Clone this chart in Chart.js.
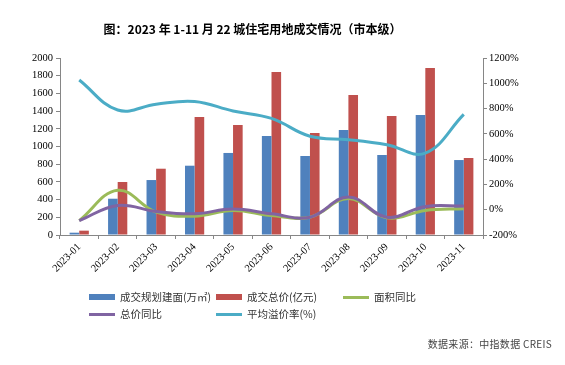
<!DOCTYPE html>
<html>
<head>
<meta charset="utf-8">
<script src="https://cdn.jsdelivr.net/npm/chart.js@4/dist/chart.umd.min.js"></script>
<style>
  html,body{margin:0;padding:0;background:#fff;}
  #wrap{position:relative;width:565px;height:365px;background:#fff;overflow:hidden;}
  #c{position:absolute;left:0;top:0;}
  #title{position:absolute;left:0;width:505px;top:20px;text-align:center;font-family:"Noto Sans CJK SC";font-weight:bold;font-size:12px;color:#000;white-space:nowrap;}
  .lg{position:absolute;font-family:"Noto Sans CJK SC";font-size:10.5px;color:#333;white-space:nowrap;line-height:14px;}
  .mk{position:absolute;}
  #source{position:absolute;right:13px;top:336px;font-family:"Noto Sans CJK SC";font-size:10px;color:#444;white-space:nowrap;letter-spacing:0.3px;}
</style>
</head>
<body>
<div id="wrap">
  <canvas id="c" width="565" height="365"></canvas>
  <div id="title">图：2023 年 1-11 月 22 城住宅用地成交情况（市本级）</div>
  <div id="legend"></div>
  <div id="source">数据来源：中指数据 CREIS</div>
</div>
<script>
const categories = ['2023-01','2023-02','2023-03','2023-04','2023-05','2023-06','2023-07','2023-08','2023-09','2023-10','2023-11'];
const areaValues = [26, 410, 621, 783, 927, 1119, 893, 1187, 904, 1356, 847];       // 成交规划建面(万㎡)
const priceValues = [49, 599, 749, 1333, 1243, 1842, 1153, 1582, 1345, 1887, 870];  // 成交总价(亿元)
const areaYoY = [-86, 154, -19, -51, -6, -46, -59, 88, -64, -6, 8];                 // 面积同比 (%)
const priceYoY = [-86, 34, -14, -32, 5, -32, -59, 101, -59, 26, 29];                // 总价同比 (%)
const premiumRate = [1026, 789, 834, 856, 781, 722, 581, 554, 514, 448, 754];       // 平均溢价率 (%)
const seriesNames = ['成交规划建面(万㎡)', '成交总价(亿元)', '面积同比', '总价同比', '平均溢价率(%)'];
const leftTicks = {min: 0, max: 2000, step: 200};
const rightTicks = {min: -200, max: 1200, step: 200};

const colors = ['#4F81BD', '#C0504D', '#9BBB59', '#8064A2', '#4BACC6'];
const axisColor = '#868686';
const tickFont = {family: 'Liberation Serif', size: 10.5};

const ctx = document.getElementById('c').getContext('2d');
new Chart(ctx, {
  data: {
    labels: categories,
    datasets: [
      {type: 'bar', label: seriesNames[0], data: areaValues, yAxisID: 'y', backgroundColor: colors[0], barPercentage: 1, categoryPercentage: 0.5, order: 3},
      {type: 'bar', label: seriesNames[1], data: priceValues, yAxisID: 'y', backgroundColor: colors[1], barPercentage: 1, categoryPercentage: 0.5, order: 4},
      {type: 'line', label: seriesNames[2], data: areaYoY, yAxisID: 'y1', borderColor: colors[2], backgroundColor: colors[2], borderWidth: 3, pointRadius: 0, tension: 0.4, order: 2},
      {type: 'line', label: seriesNames[3], data: priceYoY, yAxisID: 'y1', borderColor: colors[3], backgroundColor: colors[3], borderWidth: 3, pointRadius: 0, tension: 0.4, order: 1},
      {type: 'line', label: seriesNames[4], data: premiumRate, yAxisID: 'y1', borderColor: colors[4], backgroundColor: colors[4], borderWidth: 3, pointRadius: 0, tension: 0.4, order: 0}
    ]
  },
  options: {
    responsive: false,
    animation: false,
    devicePixelRatio: 1,
    layout: {padding: {top: 58, left: 0, right: 0, bottom: 0}},
    plugins: {legend: {display: false}, title: {display: false}, tooltip: {enabled: false}},
    scales: {
      x: {
        offset: true,
        grid: {display: true, drawOnChartArea: false, offset: true, tickLength: 4, color: axisColor},
        border: {color: axisColor},
        ticks: {font: tickFont, color: '#000', minRotation: 45, maxRotation: 45, padding: 2, autoSkip: false},
        afterFit: s => { s.height = 130; }
      },
      y: {
        position: 'left',
        min: leftTicks.min, max: leftTicks.max,
        grid: {display: true, drawOnChartArea: false, tickLength: 4, color: axisColor},
        border: {color: axisColor},
        ticks: {stepSize: leftTicks.step, font: tickFont, color: '#000', padding: 3, callback: v => String(v)},
        afterFit: s => { s.width = 60; }
      },
      y1: {
        position: 'right',
        min: rightTicks.min, max: rightTicks.max,
        grid: {display: true, drawOnChartArea: false, tickLength: 4, color: axisColor},
        border: {color: axisColor},
        ticks: {stepSize: rightTicks.step, font: tickFont, color: '#000', padding: 2, callback: v => String(v) + '%'},
        afterFit: s => { s.width = 82; }
      }
    }
  }
});

// HTML legend built from the series names and colours
const legendItems = [
  {i: 0, kind: 'box', x: 89, y: 296},
  {i: 1, kind: 'box', x: 216, y: 296},
  {i: 2, kind: 'line', x: 343, y: 296},
  {i: 3, kind: 'line', x: 89, y: 313},
  {i: 4, kind: 'line', x: 216, y: 313}
];
const lg = document.getElementById('legend');
legendItems.forEach(it => {
  const m = document.createElement('div');
  m.className = 'mk';
  m.style.left = it.x + 'px';
  m.style.width = '26px';
  m.style.background = colors[it.i];
  if (it.kind === 'box') { m.style.top = (it.y - 2) + 'px'; m.style.height = '6px'; }
  else { m.style.top = (it.y - 0.5) + 'px'; m.style.height = '3px'; }
  lg.appendChild(m);
  const t = document.createElement('div');
  t.className = 'lg';
  t.style.left = (it.x + 31) + 'px';
  t.style.top = (it.y - 6) + 'px';
  t.textContent = seriesNames[it.i];
  lg.appendChild(t);
});
</script>
</body>
</html>
